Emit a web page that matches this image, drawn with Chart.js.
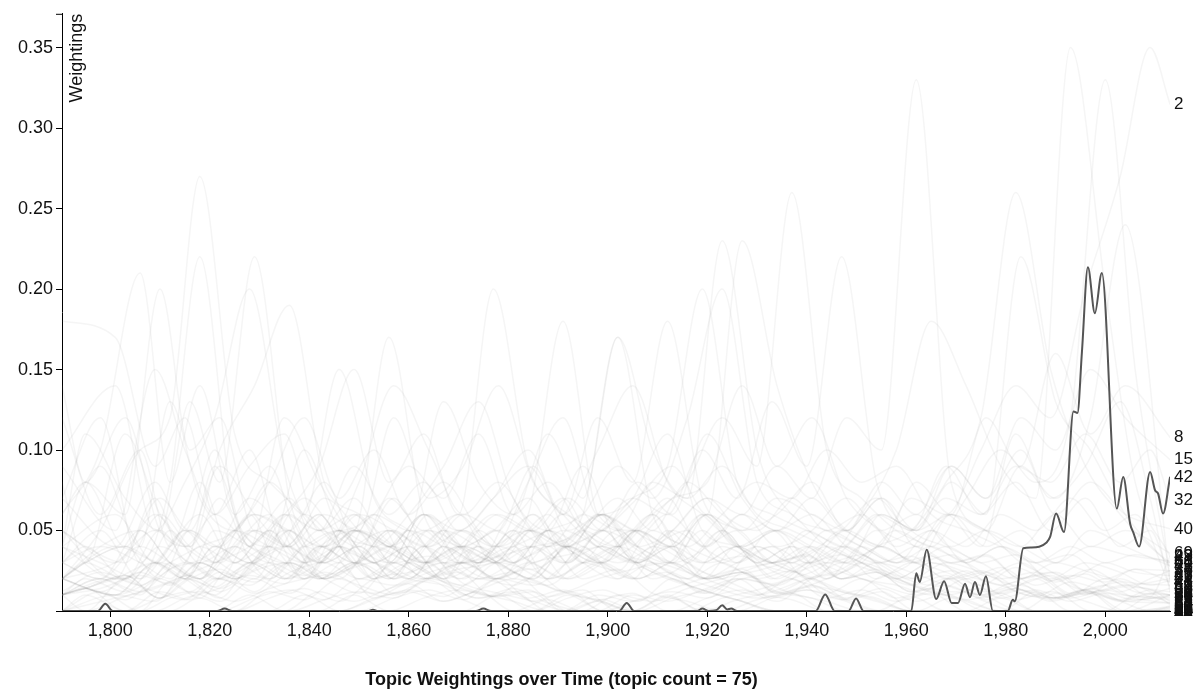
<!DOCTYPE html>
<html><head><meta charset="utf-8">
<script src="https://cdn.jsdelivr.net/npm/chart.js@4.4.1/dist/chart.umd.min.js"></script>
<style>html,body{margin:0;padding:0;background:#fff;}canvas{display:block;}</style>
</head><body>
<canvas id="c" width="1203" height="697"></canvas>
<script>
// ---- year grids for the faint background topics ----
const gridA = [1790.3,1798,1806,1812,1818,1825,1832,1839,1846,1853,1860,1867,1874,1881,1888,1895,1902,1909,1916,1923,1930,1937,1944,1951,1958,1965,1972,1979,1986,1993,2000,2006,2013];
const gridB = [1790.3,1801,1809,1815,1821,1828,1835,1842,1849,1856,1863,1870,1877,1884,1891,1898,1905,1912,1919,1926,1933,1940,1947,1954,1961,1968,1975,1982,1989,1996,2003,2009,2013];
const gridC = [1790.3,1795,1803,1810,1816,1822,1829,1836,1843,1850,1857,1864,1871,1878,1885,1892,1899,1906,1913,1920,1927,1934,1941,1948,1955,1962,1969,1976,1983,1990,1997,2004,2013];

// ---- highlighted topic (42) ----
const topic42Years = [1790.3,1797.5,1799,1800.5,1821.5,1823,1824.5,1851.8,1852.8,1853.8,1873.5,1875,1876.5,1902.3,1903.8,1905.3,1918,1919,1920.3,1921.8,1923,1924,1924.8,1926,1941.8,1943.7,1945.6,1948.4,1949.9,1951.4,1961,1962,1962.7,1964.1,1966,1967.6,1969.1,1970.4,1971.8,1972.8,1973.8,1974.8,1976,1977.4,1980.4,1981.4,1981.8,1983.5,1985.2,1988.2,1988.9,1990.1,1991.7,1993.6,1994.4,1995.3,1996.5,1997.9,1999.3,2002.3,2003.6,2005,2005.6,2006.8,2009,2010,2010.6,2011.6,2013];
const topic42Values = [0,0,.0045,0,0,.0015,0,0,.0007,0,0,.0015,0,0,.005,0,0,.0015,0,.0005,.0035,.001,.0015,0,0,.0103,0,0,.0078,0,0,.0235,.018,.038,.0074,.0185,.005,.005,.017,.0086,.018,.01,.0216,0,0,.007,.006,.039,.0395,.0426,.046,.0605,.049,.124,.123,.161,.2136,.185,.21,.0636,.0833,.054,.049,.040,.0864,.075,.073,.0605,.083];

// ---- background topics ----
const topic0 = [.12,.06,.1,.04,.08,.03,.05,.02,.03,.008,.017,.006,.012,0,.007,0,0,0,0,0,0,0,0,0,0,0,0,0,0,0,0,0,0];
const topic1 = [.18,.17,.09,.12,.06,.1,.04,.06,.03,.04,.02,.024,.009,.013,0,.006,0,0,0,0,0,0,0,0,0,0,0,0,0,0,0,0,.002];
const topic2 = [0,0,0,0,0,0,0,0,0,0,0,0,0,0,0,0,.01,.006,.013,.02,.017,.03,.05,.04,.07,.06,.1,.14,.12,.2,.27,.35,.315];
const topic3 = [.06,.1,.21,.08,.14,.06,.09,.04,.05,.02,.03,.018,.008,.014,.005,0,0,0,0,0,0,0,0,0,0,0,0,0,0,0,0,0,0];
const topic4 = [.04,.08,.06,.2,.1,.12,.05,.07,.03,.04,.02,.03,.01,.02,.006,.012,0,0,0,0,0,0,0,0,0,0,0,0,0,0,0,0,0];
const topic5 = [.02,.05,.1,.12,.27,.11,.08,.06,.04,.03,.02,.016,.008,.012,0,0,0,0,0,0,0,0,0,0,0,0,0,0,0,0,0,0,0];
const topic6 = [.1,.14,.05,.08,.12,.2,.09,.05,.06,.03,.02,.03,.02,.008,.013,.006,0,.009,0,0,0,0,0,0,0,0,0,0,0,0,0,0,.001];
const topic7 = [.08,.03,.11,.06,.04,.1,.14,.19,.08,.06,.04,.024,.015,.009,.012,0,.007,0,0,0,0,0,0,0,0,0,0,0,0,0,0,0,0];
const topic8 = [0,0,0,0,0,0,0,0,0,0,0,0,0,0,0,.01,0,.007,.012,.008,.02,.016,.03,.05,.04,.08,.06,.12,.09,.16,.11,.14,.108];
const topic9 = [.03,.09,.04,.13,.07,.05,.08,.06,.15,.07,.05,.03,.02,.024,.009,.013,0,0,0,0,0,0,0,0,0,0,0,0,0,0,0,0,0];
const topic10 = [.05,.02,.07,.03,.09,.04,.12,.08,.05,.17,.06,.04,.03,.02,.012,.007,.011,0,0,0,0,0,0,0,0,0,0,0,0,0,0,0,0];
const topic11 = [.14,.08,.12,.05,.04,.07,.03,.05,.02,.03,.011,.019,.007,0,0,0,0,0,0,0,0,0,0,0,0,0,0,0,0,0,0,0,0];
const topic12 = [.07,.12,.03,.08,.22,.06,.04,.1,.05,.04,.03,.018,.011,.006,0,0,0,0,0,0,0,0,0,0,0,0,0,0,0,0,0,0,0];
const topic13 = [.09,.05,.15,.1,.06,.09,.11,.05,.07,.04,.06,.03,.02,.026,.012,.007,0,0,0,0,0,0,0,0,0,0,0,0,0,0,0,0,0];
const topic14 = [.04,.11,.07,.05,.13,.08,.22,.07,.04,.05,.03,.034,.017,.011,.006,0,0,0,0,0,0,0,0,0,0,0,0,0,0,0,0,0,0];
const topic15 = [0,0,0,0,0,0,0,0,0,0,0,0,0,.01,0,.008,.013,.006,.02,.011,.024,.03,.02,.04,.06,.05,.09,.07,.12,.1,.15,.12,.094];
const topic16 = [.012,.024,.016,.03,.04,.05,.08,.12,.07,.1,.06,.08,.05,.03,.04,.02,.026,.011,.006,0,0,0,0,0,0,0,0,0,0,0,0,0,0];
const topic17 = [0,.008,.014,.022,.03,.04,.06,.09,.15,.08,.11,.06,.2,.09,.06,.04,.03,.02,.013,.007,0,0,0,0,0,0,0,0,0,0,0,0,0];
const topic18 = [.01,0,.02,.008,.03,.02,.05,.04,.06,.05,.12,.07,.09,.14,.08,.06,.04,.03,.02,.012,.006,0,0,0,0,0,0,0,0,0,0,0,0];
const topic19 = [0,.012,0,.018,.008,.03,.02,.04,.03,.06,.05,.13,.08,.06,.11,.07,.17,.06,.04,.03,.02,.011,.006,0,0,0,0,0,0,0,0,0,0];
const topic20 = [.02,.01,.03,.02,.04,.03,.06,.05,.09,.06,.08,.05,.07,.1,.06,.12,.08,.18,.07,.05,.03,.022,.013,.007,0,0,0,0,0,0,0,0,0];
const topic21 = [0,0,.009,.016,.022,.014,.03,.06,.04,.08,.14,.1,.06,.08,.05,.04,.06,.03,.02,.012,.006,0,0,0,0,0,0,0,0,0,0,0,0];
const topic22 = [.01,.02,.01,.03,.02,.05,.04,.03,.05,.04,.06,.09,.13,.07,.05,.09,.04,.03,.02,.013,.008,.011,0,0,0,0,0,0,0,0,0,0,0];
const topic23 = [0,0,0,.008,.013,.022,.017,.04,.03,.07,.05,.06,.04,.08,.12,.06,.07,.11,.05,.04,.025,.017,.012,.006,0,0,0,0,0,0,0,0,0];
const topic24 = [.03,.04,.02,.05,.03,.04,.06,.05,.08,.04,.07,.04,.06,.05,.09,.05,.06,.04,.03,.02,.024,.012,.008,0,0,0,0,0,0,0,0,0,0];
const topic25 = [.01,.014,.022,.017,.03,.02,.04,.07,.05,.06,.09,.07,.11,.06,.08,.05,.04,.06,.03,.02,.011,.007,0,0,0,0,0,0,0,0,0,0,0];
const topic26 = [0,.01,.006,.02,.015,.03,.02,.03,.05,.04,.06,.05,.07,.09,.06,.1,.14,.08,.06,.04,.03,.021,.012,.008,0,0,0,0,0,0,0,0,0];
const topic27 = [.02,.03,.04,.03,.05,.04,.06,.05,.04,.06,.05,.04,.05,.04,.06,.04,.05,.03,.04,.02,.026,.011,.015,.007,0,0,0,0,0,0,0,0,0];
const topic28 = [0,0,0,0,0,0,.008,.014,.006,.02,.024,.03,.03,.04,.05,.06,.09,.07,.12,.2,.08,.06,.04,.03,.02,.012,.007,0,0,0,0,0,0];
const topic29 = [0,0,0,0,0,.01,0,.012,.006,.014,.02,.026,.03,.04,.03,.05,.07,.06,.1,.07,.13,.09,.22,.08,.05,.04,.03,.02,.024,.013,.018,.009,.034];
const topic30 = [.01,.014,.007,.02,.012,.024,.018,.03,.02,.03,.04,.03,.04,.06,.05,.07,.05,.08,.06,.11,.07,.05,.06,.04,.03,.02,.025,.012,.016,.008,.011,0,0];
const topic31 = [0,0,0,0,.008,0,.012,.007,.02,.011,.02,.03,.02,.03,.04,.06,.17,.1,.07,.09,.06,.05,.04,.03,.02,.013,.007,.011,0,0,0,0,0];
const topic32 = [0,0,0,0,0,0,0,0,.01,0,.008,.013,.009,.02,.012,.02,.026,.03,.02,.04,.03,.05,.04,.06,.05,.07,.06,.09,.08,.11,.08,.1,.069];
const topic33 = [0,0,0,0,0,0,0,0,.007,.012,.008,.02,.016,.03,.026,.04,.05,.07,.09,.06,.23,.14,.08,.05,.04,.03,.02,.024,.013,.008,.014,.006,.01];
const topic34 = [0,0,0,0,0,0,0,.01,0,.007,.013,.009,.02,.016,.03,.05,.04,.06,.08,.12,.09,.26,.1,.07,.05,.04,.03,.02,.024,.011,.016,.008,.005];
const topic35 = [.01,.02,.012,.007,.02,.016,.03,.02,.03,.02,.04,.03,.05,.04,.06,.05,.07,.09,.2,.08,.06,.05,.04,.03,.034,.02,.025,.012,.008,.013,0,0,0];
const topic36 = [0,0,0,0,0,0,0,0,0,0,.008,.013,.007,.02,.016,.03,.04,.03,.05,.07,.06,.09,.07,.12,.1,.33,.08,.05,.03,.02,.012,.016,.01];
const topic37 = [0,0,0,.008,.012,.006,.014,.02,.024,.03,.02,.04,.03,.05,.04,.06,.05,.08,.07,.23,.1,.06,.05,.04,.03,.034,.02,.027,.016,.022,.018,.026,.025];
const topic38 = [.02,.01,.02,.03,.02,.03,.04,.03,.05,.04,.03,.05,.04,.06,.18,.06,.05,.07,.04,.05,.03,.034,.02,.024,.012,.016,.007,0,0,0,0,0,0];
const topic39 = [0,0,0,0,0,0,.008,.013,.007,.02,.016,.024,.03,.034,.04,.045,.06,.05,.07,.08,.14,.09,.12,.07,.05,.04,.03,.034,.02,.024,.011,.015,.012];
const topic40 = [.01,.014,0,.008,.012,.006,.02,.011,.024,.016,.01,.02,.03,.02,.03,.035,.04,.03,.05,.04,.06,.05,.07,.05,.08,.06,.09,.07,.1,.06,.08,.06,.051];
const topic41 = [0,0,0,0,0,0,0,0,0,.008,.012,.006,.013,.02,.016,.03,.025,.05,.04,.06,.08,.07,.1,.08,.09,.06,.05,.04,.03,.035,.02,.026,.018];
const topic43 = [0,0,0,0,0,0,0,0,0,0,0,0,0,0,0,0,0,0,0,.008,.013,.02,.03,.06,.1,.18,.14,.09,.07,.35,.2,.08,.034];
const topic44 = [0,0,0,0,0,0,0,0,0,0,0,0,0,0,0,0,0,.01,0,.007,.012,.02,.026,.04,.05,.08,.12,.26,.15,.09,.06,.04,.03];
const topic45 = [0,0,0,0,0,0,0,0,0,0,0,0,0,0,0,0,0,0,.008,.013,.02,.025,.04,.03,.06,.05,.08,.06,.22,.13,.1,.06,.028];
const topic46 = [0,0,0,0,0,0,0,0,0,0,0,0,0,0,0,0,0,0,0,0,.007,.012,.02,.03,.05,.04,.07,.1,.08,.12,.33,.15,.022];
const topic47 = [0,0,0,0,0,0,0,0,0,0,0,0,0,0,0,.01,.006,.013,.02,.026,.03,.036,.05,.07,.05,.09,.06,.08,.05,.07,.04,.05,.02];
const topic48 = [0,0,0,0,0,0,0,0,0,0,0,0,0,0,0,0,0,0,0,.008,.013,.006,.02,.025,.04,.03,.06,.05,.09,.07,.12,.24,.018];
const topic49 = [0,0,0,0,0,0,0,0,0,0,0,0,0,0,0,0,.01,.006,.014,.02,.025,.03,.02,.04,.03,.05,.04,.06,.05,.07,.05,.06,.015];
const topic50 = [0,0,0,0,0,0,0,0,0,0,0,0,0,0,0,0,0,0,0,0,.008,.013,.007,.02,.03,.06,.04,.11,.07,.09,.13,.07,.012];
const topic51 = [.02,.03,.02,.04,.03,.02,.03,.04,.02,.03,.05,.03,.02,.04,.03,.02,.03,.02,.03,.02,.024,.012,.02,.008,.014,.006,.012,.009,0,.011,0,0,.01];
const topic52 = [.03,.02,.04,.03,.02,.05,.03,.02,.04,.03,.02,.04,.03,.05,.02,.03,.04,.03,.02,.03,.02,.025,.011,.02,.008,.014,.006,0,.012,0,0,.009,.008];
const topic53 = [.01,.02,.03,.02,.04,.03,.05,.02,.03,.02,.04,.02,.03,.02,.04,.03,.02,.05,.03,.04,.02,.03,.02,.024,.012,.02,.008,.014,.006,.011,.007,.013,.006];
const topic54 = [.05,.04,.03,.06,.04,.03,.05,.04,.03,.05,.04,.03,.05,.03,.04,.03,.05,.03,.04,.03,.034,.02,.03,.023,.016,.01,.02,.007,.013,.008,.012,.006,.005];
const topic55 = [.02,.04,.05,.03,.02,.04,.06,.03,.04,.02,.03,.05,.03,.04,.06,.03,.04,.02,.03,.05,.03,.04,.02,.03,.022,.016,.025,.011,.02,.008,.013,.009,.014];
const topic56 = [.04,.02,.03,.05,.03,.06,.02,.04,.05,.03,.06,.04,.02,.03,.05,.04,.03,.04,.02,.03,.04,.03,.035,.02,.03,.024,.016,.027,.019,.023,.012,.02,.025];
const topic57 = [.01,.014,.022,.008,.02,.026,.012,.03,.02,.03,.02,.03,.04,.03,.02,.04,.03,.05,.04,.06,.04,.05,.04,.03,.04,.03,.035,.022,.03,.018,.026,.016,.02];
const topic58 = [.03,.05,.02,.04,.06,.03,.04,.02,.05,.03,.04,.02,.05,.03,.02,.04,.02,.03,.024,.016,.01,.02,.008,.013,.006,.011,0,.008,0,0,0,0,.003];
const topic59 = [.02,.01,.03,.02,.01,.03,.02,.04,.03,.05,.03,.04,.06,.05,.07,.04,.05,.03,.06,.04,.05,.03,.04,.03,.02,.03,.024,.016,.022,.01,.02,.012,.01];
const topic60 = [.06,.08,.04,.07,.05,.09,.06,.04,.07,.05,.03,.06,.04,.05,.03,.04,.03,.02,.03,.02,.024,.011,.016,.007,.012,0,.008,0,0,0,0,0,.002];
const topic61 = [.01,.02,.012,.026,.03,.02,.03,.022,.04,.03,.05,.04,.03,.06,.04,.05,.07,.05,.08,.06,.05,.07,.05,.06,.04,.05,.03,.04,.03,.04,.03,.035,.03];
const topic62 = [.04,.06,.03,.05,.04,.07,.05,.03,.06,.04,.05,.03,.04,.05,.03,.06,.04,.03,.05,.03,.04,.02,.03,.024,.016,.022,.01,.018,.008,.013,.006,.011,.004];
const topic63 = [.02,.03,.04,.02,.05,.03,.02,.05,.03,.04,.02,.05,.03,.04,.06,.03,.05,.04,.03,.06,.04,.05,.03,.04,.03,.04,.03,.035,.02,.03,.024,.018,.016];
const topic64 = [.03,.02,.05,.03,.02,.04,.03,.06,.04,.02,.05,.03,.04,.02,.05,.03,.04,.06,.03,.05,.03,.04,.03,.035,.02,.03,.024,.016,.022,.01,.02,.012,.01];
const topic65 = [.07,.04,.08,.05,.1,.04,.06,.03,.05,.04,.03,.04,.02,.03,.02,.03,.02,.024,.011,.02,.008,.013,.007,0,.009,0,0,0,0,0,0,0,0];
const topic66 = [.01,.02,.012,.03,.02,.008,.03,.02,.04,.02,.03,.05,.04,.03,.05,.04,.06,.04,.05,.07,.05,.06,.08,.05,.07,.04,.06,.04,.05,.03,.04,.035,.031];
const topic67 = [.02,.012,.024,.016,.03,.02,.04,.03,.02,.04,.03,.02,.04,.03,.05,.03,.02,.04,.03,.02,.04,.03,.05,.04,.03,.04,.03,.04,.03,.02,.03,.024,.022];
const topic68 = [.05,.03,.06,.04,.03,.05,.04,.06,.03,.05,.04,.06,.03,.05,.04,.03,.05,.04,.03,.04,.03,.035,.02,.026,.016,.01,.014,.007,.012,.006,0,.009,.005];
const topic69 = [0,.01,0,.012,.007,.02,.011,.024,.03,.02,.03,.02,.04,.03,.02,.04,.03,.05,.04,.06,.05,.07,.06,.05,.07,.05,.06,.05,.04,.06,.04,.05,.036];
const topic70 = [.03,.04,.03,.02,.04,.03,.05,.03,.04,.06,.03,.05,.04,.03,.05,.04,.03,.04,.05,.03,.04,.03,.04,.03,.02,.03,.022,.016,.009,.018,.012,.007,.009];
const topic71 = [.02,.03,.05,.04,.06,.04,.03,.05,.04,.03,.06,.04,.05,.07,.04,.06,.05,.04,.06,.04,.03,.04,.02,.03,.024,.016,.01,.014,.007,.012,.006,0,.003];
const topic72 = [.01,.014,.022,.008,.02,.012,.025,.03,.02,.011,.03,.02,.03,.02,.04,.02,.03,.05,.03,.04,.06,.04,.05,.07,.05,.06,.04,.05,.04,.03,.05,.04,.028];
const topic73 = [.04,.03,.02,.05,.03,.04,.02,.04,.05,.03,.04,.02,.03,.04,.02,.03,.05,.03,.02,.04,.03,.024,.03,.02,.016,.01,.02,.008,.013,.006,.011,.009,.007];
const topic74 = [.02,.04,.03,.02,.05,.04,.03,.02,.04,.05,.03,.04,.03,.05,.04,.03,.04,.06,.04,.03,.05,.04,.03,.05,.03,.04,.03,.035,.02,.03,.024,.016,.019];

// [topic label, values, year grid]
const backgroundTopics = [
  ['0',topic0,gridA],['1',topic1,gridB],['2',topic2,gridB],['3',topic3,gridA],['4',topic4,gridC],['5',topic5,gridA],['6',topic6,gridB],['7',topic7,gridC],['8',topic8,gridC],['9',topic9,gridA],
  ['10',topic10,gridB],['11',topic11,gridC],['12',topic12,gridA],['13',topic13,gridB],['14',topic14,gridC],['15',topic15,gridC],['16',topic16,gridA],['17',topic17,gridB],['18',topic18,gridC],['19',topic19,gridA],
  ['20',topic20,gridB],['21',topic21,gridC],['22',topic22,gridA],['23',topic23,gridB],['24',topic24,gridC],['25',topic25,gridA],['26',topic26,gridB],['27',topic27,gridC],['28',topic28,gridA],['29',topic29,gridB],
  ['30',topic30,gridC],['31',topic31,gridA],['32',topic32,gridB],['33',topic33,gridC],['34',topic34,gridA],['35',topic35,gridB],['36',topic36,gridC],['37',topic37,gridA],['38',topic38,gridB],['39',topic39,gridC],
  ['40',topic40,gridC],['41',topic41,gridA],['43',topic43,gridA],['44',topic44,gridB],['45',topic45,gridC],['46',topic46,gridA],['47',topic47,gridB],['48',topic48,gridC],['49',topic49,gridA],
  ['50',topic50,gridB],['51',topic51,gridC],['52',topic52,gridA],['53',topic53,gridB],['54',topic54,gridC],['55',topic55,gridA],['56',topic56,gridB],['57',topic57,gridC],['58',topic58,gridA],['59',topic59,gridB],
  ['60',topic60,gridC],['61',topic61,gridA],['62',topic62,gridB],['63',topic63,gridC],['64',topic64,gridA],['65',topic65,gridB],['66',topic66,gridC],['67',topic67,gridA],['68',topic68,gridB],['69',topic69,gridC],
  ['70',topic70,gridA],['71',topic71,gridB],['72',topic72,gridC],['73',topic73,gridA],['74',topic74,gridB]
];

// ---- axis ticks ----
const xTickValues = [1800,1820,1840,1860,1880,1900,1920,1940,1960,1980,2000];
const yTickValues = [0,0.05,0.10,0.15,0.20,0.25,0.30,0.35];

const chartTitle = 'Topic Weightings over Time (topic count = 75)';
const yAxisTitle = 'Weightings';

const FONT = "'Liberation Sans', Arimo, Arial, Helvetica, sans-serif";
Chart.defaults.font.family = FONT;
Chart.defaults.color = '#111';

const datasets = [];
datasets.push({
  label: '42',
  data: topic42Years.map((x, i) => ({x: x, y: topic42Values[i]})),
  borderColor: '#555555',
  borderWidth: 2,
  pointRadius: 0,
  cubicInterpolationMode: 'monotone',
  fill: false,
  order: 0
});
backgroundTopics.forEach(([name, vals, grid]) => {
  datasets.push({
    label: name,
    data: grid.map((x, i) => ({x: x, y: vals[i]})),
    borderColor: 'rgba(120,120,120,0.07)',
    borderWidth: 1.5,
    pointRadius: 0,
    cubicInterpolationMode: 'monotone',
    fill: false,
    order: 1
  });
});

const decorations = {
  id: 'decorations',
  afterDatasetsDraw(chart) {
    const ctx = chart.ctx;
    const area = chart.chartArea;
    ctx.save();
    ctx.strokeStyle = '#000';
    ctx.lineWidth = 1;
    ctx.beginPath();
    ctx.moveTo(area.left - 6, area.top + 0.5);
    ctx.lineTo(area.left, area.top + 0.5);
    ctx.stroke();
    ctx.fillStyle = '#111';
    ctx.font = '17px ' + FONT;
    ctx.textAlign = 'left';
    ctx.textBaseline = 'middle';
    chart.data.datasets.forEach((ds, i) => {
      const meta = chart.getDatasetMeta(i);
      const last = meta.data[meta.data.length - 1];
      if (last) ctx.fillText(ds.label, last.x + 4, last.y);
    });
    ctx.save();
    ctx.translate(area.left + 6, area.top);
    ctx.rotate(-Math.PI / 2);
    ctx.textAlign = 'right';
    ctx.textBaseline = 'alphabetic';
    ctx.font = '18px ' + FONT;
    ctx.fillStyle = '#111';
    ctx.fillText(yAxisTitle, 0, 18 * 0.76);
    ctx.restore();
    ctx.font = 'bold 18px ' + FONT;
    ctx.textAlign = 'center';
    ctx.textBaseline = 'middle';
    ctx.fillStyle = '#111';
    ctx.fillText(chartTitle, 561.5, 680);
    ctx.restore();
  }
};

new Chart(document.getElementById('c'), {
  type: 'line',
  data: { datasets: datasets },
  options: {
    responsive: false,
    devicePixelRatio: 1,
    animation: false,
    layout: { padding: { top: 10, right: 33, left: 0, bottom: 0 } },
    plugins: { legend: { display: false }, tooltip: { enabled: false } },
    elements: { line: { borderJoinStyle: 'round', borderCapStyle: 'round' } },
    scales: {
      x: {
        type: 'linear',
        min: 1790.3,
        max: 2013,
        afterFit(scale) { scale.height = 86; },
        afterBuildTicks(scale) { scale.ticks = xTickValues.map(v => ({value: v})); },
        grid: { drawOnChartArea: false, drawTicks: true, tickLength: 6, color: '#000', lineWidth: 1 },
        border: { display: true, color: '#000', width: 1 },
        ticks: {
          font: { size: 18 },
          color: '#111',
          padding: 3,
          maxRotation: 0,
          autoSkip: false,
          callback: v => Number(v).toLocaleString('en-US')
        }
      },
      y: {
        type: 'linear',
        min: 0,
        max: 0.371,
        afterFit(scale) { scale.width = 62; },
        afterBuildTicks(scale) { scale.ticks = yTickValues.map(v => ({value: v})); },
        grid: { drawOnChartArea: false, drawTicks: true, tickLength: 6, color: '#000', lineWidth: 1 },
        border: { display: true, color: '#000', width: 1 },
        ticks: {
          font: { size: 18 },
          color: '#111',
          padding: 3,
          autoSkip: false,
          callback: v => (v === 0 ? '' : Number(v).toFixed(2))
        }
      }
    }
  },
  plugins: [decorations]
});
</script>
</body></html>
